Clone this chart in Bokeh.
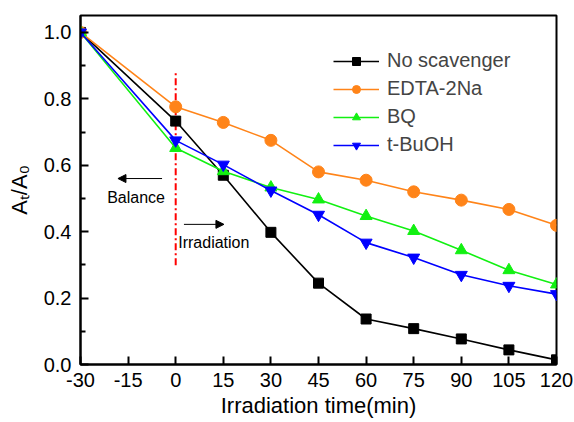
from bokeh.plotting import figure
from bokeh.embed import file_html
from bokeh.resources import INLINE
from bokeh.models import (Arrow, NormalHead, Label, Range1d, Legend, LegendItem,
                          FixedTicker, PrintfTickFormatter)

time = [-30, 0, 15, 30, 45, 60, 75, 90, 105, 120]
no_scavenger = [1.0, 0.733, 0.570, 0.398, 0.245, 0.137, 0.108, 0.077, 0.044, 0.014]
edta_2na = [1.0, 0.776, 0.729, 0.675, 0.580, 0.555, 0.520, 0.495, 0.467, 0.419]
bq = [1.0, 0.652, 0.582, 0.533, 0.497, 0.447, 0.402, 0.344, 0.284, 0.241]
t_buoh = [1.0, 0.675, 0.602, 0.524, 0.451, 0.367, 0.322, 0.270, 0.237, 0.212]
x_ticks = [-30, -15, 0, 15, 30, 45, 60, 75, 90, 105, 120]
y_ticks = [0.0, 0.2, 0.4, 0.6, 0.8, 1.0]
y_minor = [0.1, 0.3, 0.5, 0.7, 0.9]

FONT = "Liberation Sans"

p = figure(width=574, height=422, output_backend="svg", toolbar_location=None,
           x_range=Range1d(-30, 120), y_range=Range1d(0, 1.051),
           min_border_left=80, min_border_right=18, min_border_top=15, min_border_bottom=58)
p.background_fill_color = "white"
p.border_fill_color = "white"
p.grid.visible = False
p.outline_line_color = "black"
p.outline_line_width = 2

for ax in (p.xaxis[0], p.yaxis[0]):
    ax.axis_line_width = 2
    ax.major_tick_line_width = 2
    ax.minor_tick_line_width = 2
    ax.major_tick_in = 8
    ax.major_tick_out = 0
    ax.minor_tick_in = 5
    ax.minor_tick_out = 0
    ax.major_label_text_font = FONT
    ax.major_label_text_font_size = "20px"
    ax.major_label_text_color = "black"
    ax.axis_label_text_font = FONT
    ax.axis_label_text_font_style = "normal"
    ax.axis_label_text_color = "black"

p.xaxis.ticker = FixedTicker(ticks=x_ticks)
p.xaxis.major_label_overrides = {t: str(t) for t in x_ticks}
p.yaxis.ticker = FixedTicker(ticks=y_ticks, minor_ticks=y_minor)
p.yaxis.formatter = PrintfTickFormatter(format="%.1f")
p.xaxis.major_label_standoff = 8
p.yaxis.major_label_standoff = 9

p.xaxis.axis_label = "Irradiation time(min)"
p.xaxis.axis_label_text_font_size = "22px"
p.xaxis.axis_label_standoff = 3
p.yaxis.axis_label = "Aₜ/A₀"
p.yaxis.axis_label_text_font_size = "22px"
p.yaxis.axis_label_standoff = 9

# red dash-dot divider
p.line(x=[0, 0], y=[0.299, 0.883], line_color="red", line_width=2, line_dash="7 3 2 3")

series = [
    ("No scavenger", no_scavenger, "black", "square", 10),
    ("EDTA-2Na", edta_2na, "#FF8419", "circle", 12),
    ("BQ", bq, "#12F012", "triangle", 12),
    ("t-BuOH", t_buoh, "#0000FF", "inverted_triangle", 12),
]
items = []
for name, ys, col, marker, sz in series:
    l = p.line(time, ys, line_color=col, line_width=1.6)
    s = p.scatter(time, ys, marker=marker, size=sz, fill_color=col, line_color=col)
    items.append(LegendItem(label=name, renderers=[l, s]))

legend = Legend(items=items, location=(253, 208), border_line_color=None,
                background_fill_alpha=0, label_text_font=FONT, label_text_font_size="20px",
                glyph_width=46, glyph_height=20, label_height=20, spacing=5,
                label_standoff=8, padding=0, margin=0)
p.add_layout(legend)

# arrows and annotations
p.add_layout(Arrow(end=NormalHead(size=8, fill_color="black", line_color="black", line_width=1),
                   x_start=-4.3, y_start=0.56, x_end=-18.2, y_end=0.56, line_width=1))
p.add_layout(Arrow(end=NormalHead(size=8, fill_color="black", line_color="black", line_width=1),
                   x_start=2.6, y_start=0.422, x_end=15.2, y_end=0.422, line_width=1))
p.add_layout(Label(x=-21.6, y=0.503, text="Balance", text_font=FONT, text_font_size="16px",
                   text_baseline="middle", text_align="left", text_color="black"))
p.add_layout(Label(x=0.8, y=0.368, text="Irradiation", text_font=FONT, text_font_size="16px",
                   text_baseline="middle", text_align="left", text_color="black"))

open("out.html", "w").write(file_html(p, INLINE))
